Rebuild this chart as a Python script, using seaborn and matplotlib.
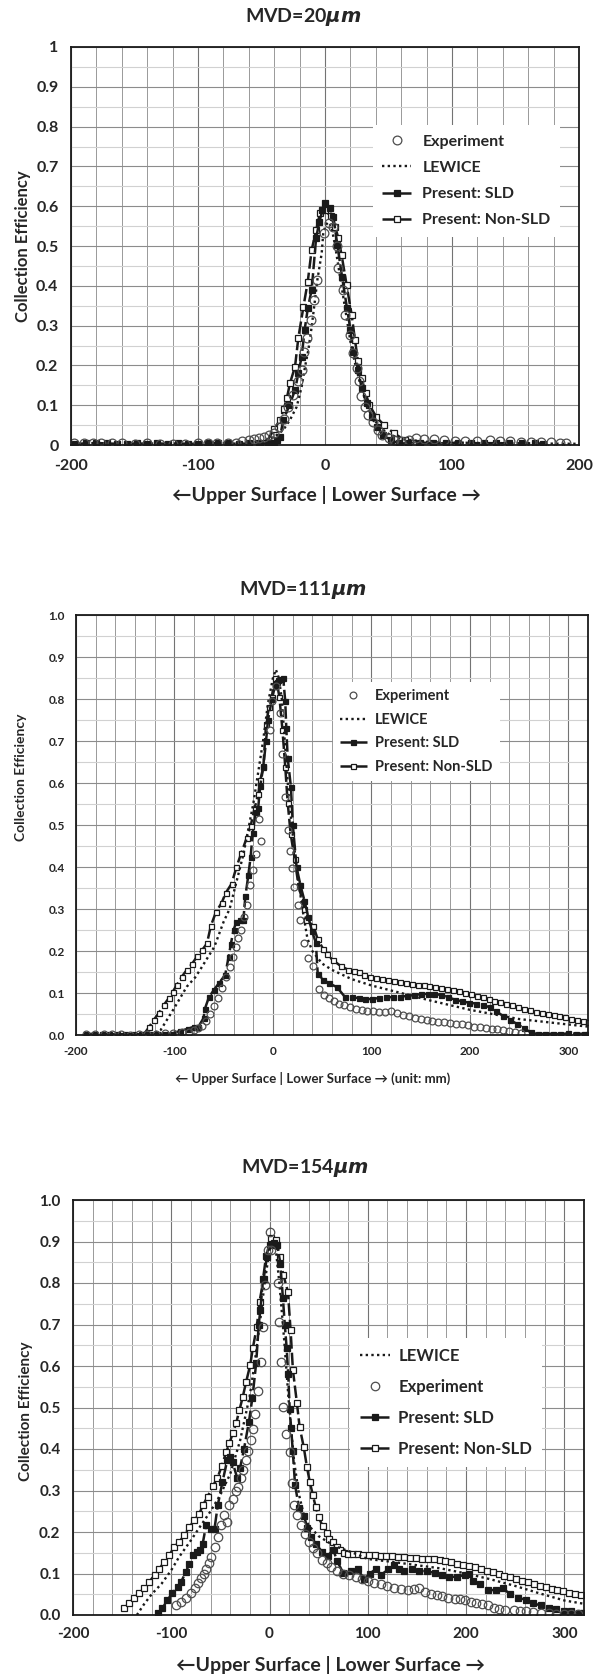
import matplotlib
matplotlib.use("Agg")
import matplotlib.pyplot as plt
from matplotlib.ticker import MultipleLocator, FuncFormatter
import seaborn as sns

# ---------------- MVD = 20 um ----------------
exp20_x = [-198, -190, -183, -176, -168, -160, -150, -140, -130, -120,
           -110, -100, -92, -85, -76, -70, -65, -60, -56, -52,
           -48, -44, -40, -36, -32, -29, -25, -21, -18.5, -16.5,
           -13.8, -11, -8.6, -6, -0.6, 3, 6.6, 9.2, 10.5, 13.9,
           15.7, 19.7, 21.8, 24.9, 26.5, 28, 31.5, 34, 37.5, 42,
           45, 50, 54, 60, 66, 72, 78, 86, 94, 102,
           110, 120, 130, 138, 146, 154, 162, 170, 178, 185, 190]
exp20_y = [0.004, 0.004, 0.005, 0.004, 0.004, 0.004, 0.003, 0.004, 0.003, 0.003,
           0.002, 0.004, 0.005, 0.006, 0.005, 0.006, 0.01, 0.012, 0.015, 0.018,
           0.02, 0.025, 0.03, 0.045, 0.065, 0.096, 0.125, 0.16, 0.188, 0.234,
           0.268, 0.314, 0.364, 0.415, 0.533, 0.558, 0.548, 0.5, 0.444, 0.39,
           0.327, 0.276, 0.231, 0.193, 0.16, 0.124, 0.096, 0.075, 0.059, 0.038,
           0.025, 0.018, 0.013, 0.01, 0.012, 0.018, 0.016, 0.014, 0.012, 0.01,
           0.01, 0.009, 0.012, 0.01, 0.009, 0.008, 0.007, 0.007, 0.007, 0.006, 0.005]

lew20_x = [-60, -50, -40, -32.8, -27.6, -22.3, -18.4, -15.7, -13.1, -10.5,
           -7.9, -6, -2.6, -1.3, 2, 5, 8, 11, 14, 17,
           20, 24, 28, 32, 36, 40, 45, 50, 60, 80,
           100, 150, 200]
lew20_y = [0.004, 0.01, 0.02, 0.038, 0.063, 0.096, 0.146, 0.197, 0.239, 0.297,
           0.364, 0.415, 0.482, 0.536, 0.56, 0.55, 0.5, 0.44, 0.38, 0.32,
           0.26, 0.2, 0.15, 0.11, 0.08, 0.058, 0.04, 0.028, 0.015, 0.008,
           0.006, 0.004, 0.003]

sld20_x = [-197, -188, -180, -172, -164, -156, -148, -140, -132, -124,
           -116, -108, -100, -92, -84, -76, -68, -60, -52, -45,
           -40, -37.5, -35.4, -32.8, -28, -23.6, -21, -18.4, -16, -13.5,
           -10.5, -7, -4.5, -2, 0, 3.9, 6.6, 9.7, 13.4, 17.3,
           20, 22.3, 26.2, 28.8, 32.8, 36.7, 40.7, 46, 52, 58,
           65, 75, 85, 95, 105, 115, 125, 135, 145, 155,
           165, 172]
sld20_y = [0.003, 0.004, 0.005, 0.004, 0.003, 0.003, 0.004, 0.003, 0.004, 0.003,
           0.004, 0.003, 0.003, 0.004, 0.005, 0.004, 0.003, 0.004, 0.004, 0.004,
           0.006, 0.012, 0.021, 0.063, 0.1, 0.138, 0.18, 0.222, 0.29, 0.344,
           0.39, 0.52, 0.56, 0.59, 0.607, 0.595, 0.574, 0.503, 0.423, 0.344,
           0.29, 0.234, 0.188, 0.143, 0.105, 0.071, 0.046, 0.025, 0.012, 0.004,
           0.004, 0.006, 0.005, 0.004, 0.006, 0.005, 0.004, 0.005, 0.004, 0.004,
           0.004, 0.003]

non20_x = [-46.5, -40, -35.4, -32.5, -30, -27.6, -23.6, -21, -17, -13.6,
           -10.5, -7, -3.9, 0, 4.5, 8, 10.5, 13.1, 17, 21,
           23.6, 26, 28.8, 32, 35, 40.5, 46.5, 54, 63, 69]
non20_y = [0.005, 0.04, 0.063, 0.09, 0.118, 0.155, 0.197, 0.269, 0.347, 0.41,
           0.49, 0.54, 0.583, 0.59, 0.575, 0.548, 0.52, 0.477, 0.402, 0.327,
           0.264, 0.21, 0.168, 0.13, 0.1, 0.07, 0.05, 0.03, 0.012, 0.004]

# ---------------- MVD = 111 um ----------------
exp111_x = [-190, -181, -172, -163, -154, -145, -136, -128, -119, -110,
            -101, -92, -85, -80, -76, -72, -68, -64, -60, -56,
            -52, -48, -44, -41, -38, -35, -32, -29, -26, -23,
            -20, -17, -14, -12, -3, -1, 3, 7, 9, 12.5,
            15, 17, 19, 21, 25, 28, 32, 36, 41, 47,
            52, 57, 62, 67, 72, 78, 84, 90, 96, 102,
            108, 114, 120, 126, 132, 138, 144, 150, 156, 162,
            168, 174, 180, 186, 192, 198, 204, 210, 216, 222,
            228, 234, 240, 246, 252]
exp111_y = [0.002, 0.003, 0.002, 0.002, 0.002, 0.001, 0.002, 0.002, 0.003, 0.004,
            0.004, 0.006, 0.008, 0.012, 0.016, 0.022, 0.034, 0.05, 0.068, 0.088,
            0.112, 0.138, 0.162, 0.185, 0.21, 0.232, 0.25, 0.28, 0.31, 0.356,
            0.393, 0.43, 0.515, 0.463, 0.726, 0.795, 0.83, 0.767, 0.67, 0.566,
            0.489, 0.438, 0.397, 0.352, 0.31, 0.274, 0.22, 0.183, 0.164, 0.11,
            0.095, 0.087, 0.08, 0.075, 0.072, 0.066, 0.062, 0.06, 0.058, 0.056,
            0.055, 0.054, 0.058, 0.052, 0.047, 0.045, 0.04, 0.037, 0.036, 0.034,
            0.032, 0.031, 0.029, 0.027, 0.026, 0.024, 0.02, 0.018, 0.017, 0.015,
            0.014, 0.012, 0.009, 0.006, 0.004]

lew111_x = [-125, -114, -100, -87.5, -79, -74, -59.5, -50, -44, -30,
            -20, -10, -5, 0, 3, 6, 9, 12, 16, 20,
            25, 30, 35, 40, 50, 60, 80, 100, 130, 160,
            200, 250, 300, 320]
lew111_y = [0.0, 0.012, 0.065, 0.115, 0.137, 0.155, 0.21, 0.27, 0.3, 0.43,
            0.55, 0.7, 0.79, 0.85, 0.87, 0.85, 0.8, 0.7, 0.57, 0.48,
            0.38, 0.3, 0.23, 0.2, 0.17, 0.155, 0.133, 0.118, 0.1, 0.082,
            0.06, 0.038, 0.025, 0.02]

sld111_x = [-190, -182, -174, -166, -158, -150, -142, -134, -126, -118,
            -110, -103, -94, -86, -80, -75.6, -70.5, -69, -65, -60,
            -55, -48.5, -45, -42.7, -40, -37, -33, -30, -28, -25,
            -22.6, -20.6, -17.5, -15, -12.8, -9.7, -7, -5, -1, 2,
            4.7, 8, 10.5, 12.5, 13.6, 15, 18.3, 20.2, 24, 28,
            32, 36, 39.7, 43.6, 45.5, 51, 57, 65, 73, 80,
            87, 94, 101, 108, 115, 122, 129, 136, 143, 150,
            157, 164, 171, 178, 185, 192, 199, 206, 213, 220,
            227, 234, 241, 248, 255, 262, 269, 276, 284, 292,
            300, 308, 316, 320]
sld111_y = [0.002, 0.003, 0.003, 0.002, 0.002, 0.002, 0.002, 0.002, 0.003, 0.003,
            0.003, 0.003, 0.01, 0.015, 0.02, 0.02, 0.04, 0.063, 0.09, 0.107,
            0.123, 0.143, 0.186, 0.217, 0.25, 0.27, 0.275, 0.275, 0.33, 0.38,
            0.425, 0.48, 0.53, 0.54, 0.594, 0.64, 0.7, 0.75, 0.8, 0.83,
            0.845, 0.848, 0.849, 0.795, 0.73, 0.66, 0.59, 0.5, 0.4, 0.356,
            0.32, 0.28, 0.247, 0.22, 0.146, 0.132, 0.123, 0.114, 0.091, 0.09,
            0.088, 0.085, 0.086, 0.088, 0.09, 0.09, 0.091, 0.093, 0.095, 0.097,
            0.098, 0.098, 0.095, 0.09, 0.084, 0.08, 0.077, 0.075, 0.072, 0.066,
            0.056, 0.045, 0.036, 0.026, 0.016, 0.006, 0.002, 0.003, 0.003, 0.002,
            0.004, 0.003, 0.003, 0.002]

non111_x = [-131, -126, -121, -116, -111, -106, -101.7, -97.6, -92.5, -87.5,
            -82, -77, -72, -67, -63, -58, -52, -48, -42, -37,
            -32, -26.5, -22.6, -18.7, -14.8, -12.8, -9.7, -7, -4, -1.2,
            1.9, 4, 6.6, 9.7, 12.5, 15, 18, 22, 26, 32,
            34, 41, 45.5, 51, 55, 61, 69, 76.7, 82, 87,
            93, 99, 105, 111, 117, 123, 129, 135, 141, 147,
            153, 159, 165, 171, 177, 183, 189, 195, 201, 207,
            213, 219, 225, 231, 237, 243, 249, 255, 261, 267,
            273, 279, 285, 291, 297, 303, 309, 315, 320]
non111_y = [0.002, 0.018, 0.036, 0.052, 0.071, 0.087, 0.103, 0.119, 0.139, 0.155,
            0.17, 0.187, 0.202, 0.218, 0.26, 0.292, 0.315, 0.338, 0.36, 0.4,
            0.434, 0.47, 0.498, 0.539, 0.575, 0.607, 0.639, 0.74, 0.78, 0.804,
            0.849, 0.84, 0.804, 0.726, 0.639, 0.553, 0.479, 0.42, 0.356, 0.301,
            0.274, 0.26, 0.228, 0.205, 0.192, 0.178, 0.164, 0.155, 0.152, 0.15,
            0.142, 0.139, 0.136, 0.133, 0.131, 0.129, 0.127, 0.125, 0.122, 0.12,
            0.118, 0.117, 0.115, 0.113, 0.11, 0.107, 0.105, 0.101, 0.098, 0.094,
            0.09, 0.086, 0.082, 0.079, 0.075, 0.071, 0.066, 0.063, 0.059, 0.055,
            0.053, 0.05, 0.047, 0.045, 0.042, 0.039, 0.036, 0.034, 0.032]

# ---------------- MVD = 154 um ----------------
exp154_x = [-95, -90, -85, -80, -76, -73, -70, -67, -64.6, -62,
            -59.5, -56, -52.7, -49.3, -46, -43, -41, -37, -34, -32,
            -29, -27, -24, -21.5, -18.7, -17, -15.3, -11.9, -8.5, -6.8,
            -5, -1.7, 0, 1.7, 8.5, 10, 11.9, 13.6, 17, 20.4,
            22.5, 25, 28, 32, 36, 40, 44, 48, 53, 58,
            63, 69, 75, 81, 88, 94, 100, 106, 113, 120,
            127, 134, 141, 147, 152, 158, 164, 170, 176, 182,
            189, 194, 199, 205, 210, 216, 222, 228, 233, 240,
            249, 255, 261, 268, 276, 284, 292, 300, 307, 314]
exp154_y = [0.023, 0.032, 0.04, 0.052, 0.065, 0.076, 0.088, 0.1, 0.112, 0.125,
            0.14, 0.164, 0.188, 0.216, 0.24, 0.225, 0.264, 0.28, 0.3, 0.308,
            0.33, 0.35, 0.373, 0.396, 0.421, 0.449, 0.485, 0.539, 0.61, 0.694,
            0.796, 0.88, 0.924, 0.88, 0.8, 0.705, 0.61, 0.501, 0.437, 0.392,
            0.317, 0.265, 0.24, 0.216, 0.195, 0.175, 0.161, 0.15, 0.133, 0.125,
            0.115, 0.107, 0.1, 0.096, 0.092, 0.087, 0.083, 0.078, 0.074, 0.07,
            0.065, 0.062, 0.06, 0.062, 0.064, 0.055, 0.05, 0.048, 0.046, 0.042,
            0.039, 0.038, 0.037, 0.032, 0.028, 0.026, 0.023, 0.018, 0.014, 0.013,
            0.011, 0.01, 0.009, 0.008, 0.006, 0.004, 0.002, 0.002, 0.002, 0.002]

lew154_x = [-135, -128, -120, -110, -100, -92, -80, -71, -60, -50,
            -40, -30, -20, -15, -10, -5, 0, 3, 6, 10,
            15, 20, 25, 30, 35, 40, 50, 60, 70, 85,
            100, 125, 150, 175, 200, 225, 250, 275, 300, 320]
lew154_y = [0.0, 0.025, 0.05, 0.075, 0.108, 0.14, 0.18, 0.212, 0.25, 0.29,
            0.34, 0.42, 0.53, 0.61, 0.7, 0.8, 0.88, 0.9, 0.89, 0.8,
            0.66, 0.5, 0.37, 0.29, 0.24, 0.215, 0.19, 0.175, 0.163, 0.15,
            0.135, 0.128, 0.12, 0.112, 0.1, 0.086, 0.07, 0.052, 0.035, 0.027]

sld154_x = [-114, -109, -104, -99, -93.5, -90, -85, -81.6, -78, -74,
            -71, -68, -64.6, -60, -56, -52.7, -48, -43, -40, -37.6,
            -33, -30, -26, -21, -17.4, -13.6, -11, -9.3, -6.6, -3.5,
            0, 4.3, 8, 11, 13.6, 15.5, 17.4, 19, 20.5, 22,
            23.6, 26, 30, 35, 38.5, 42, 47.7, 53.5, 59, 65,
            69, 75, 82.5, 90, 96, 102, 108, 113.6, 121, 127,
            132, 137, 144.6, 152, 160, 168, 175.6, 183, 191, 199,
            203, 206.6, 214, 222, 230, 237.6, 245, 253, 261, 268.6,
            276, 284, 292, 299.6, 307, 315, 320]
sld154_y = [0.004, 0.016, 0.036, 0.052, 0.068, 0.08, 0.104, 0.124, 0.144, 0.152,
            0.156, 0.172, 0.216, 0.207, 0.208, 0.264, 0.32, 0.373, 0.38, 0.368,
            0.331, 0.354, 0.4, 0.465, 0.524, 0.607, 0.7, 0.736, 0.81, 0.865,
            0.892, 0.897, 0.892, 0.846, 0.764, 0.7, 0.644, 0.58, 0.497, 0.45,
            0.396, 0.313, 0.258, 0.239, 0.21, 0.189, 0.17, 0.152, 0.143, 0.156,
            0.129, 0.101, 0.106, 0.11, 0.087, 0.1, 0.11, 0.097, 0.11, 0.12,
            0.112, 0.106, 0.11, 0.106, 0.106, 0.101, 0.097, 0.092, 0.092, 0.097,
            0.1, 0.083, 0.074, 0.06, 0.06, 0.064, 0.05, 0.041, 0.037, 0.028,
            0.023, 0.018, 0.014, 0.009, 0.009, 0.005, 0.004]

non154_x = [-148, -143, -138, -133, -127.5, -122.4, -117, -112, -107, -102,
            -97, -92, -86.7, -81.6, -76.5, -71.4, -68, -63, -58, -53,
            -48.5, -44.2, -40.8, -37.4, -34, -30.6, -27.2, -23.8, -19.7, -17,
            -12.9, -10.2, -6, -2.7, 1, 6.8, 10.2, 14, 18.7, 21.4,
            23.8, 27.9, 30.6, 34.7, 38.1, 41, 44, 47, 50, 54,
            58, 61, 65, 69, 72, 76, 80, 85, 90, 95,
            101, 107, 113, 119, 125, 131, 137, 143, 149, 155,
            161, 167, 173, 179, 185, 191, 197, 203, 209, 215,
            221, 227, 233, 239, 245, 251, 257, 263, 269, 275,
            281, 287, 293, 299, 305, 311, 317]
non154_y = [0.016, 0.028, 0.04, 0.052, 0.064, 0.08, 0.096, 0.112, 0.128, 0.144,
            0.164, 0.176, 0.192, 0.212, 0.228, 0.244, 0.264, 0.285, 0.31, 0.33,
            0.36, 0.392, 0.414, 0.438, 0.462, 0.494, 0.526, 0.562, 0.602, 0.643,
            0.695, 0.755, 0.81, 0.862, 0.908, 0.904, 0.863, 0.82, 0.779, 0.687,
            0.59, 0.51, 0.453, 0.406, 0.356, 0.32, 0.29, 0.26, 0.235, 0.215,
            0.198, 0.184, 0.175, 0.165, 0.156, 0.15, 0.147, 0.146, 0.146, 0.145,
            0.145, 0.144, 0.143, 0.142, 0.141, 0.14, 0.139, 0.138, 0.137, 0.136,
            0.135, 0.134, 0.132, 0.13, 0.127, 0.124, 0.121, 0.118, 0.115, 0.111,
            0.107, 0.103, 0.099, 0.095, 0.091, 0.087, 0.083, 0.079, 0.075, 0.071,
            0.067, 0.063, 0.06, 0.057, 0.054, 0.051, 0.049]

sns.set_theme(style="white")
plt.rcParams["font.family"] = ["Lato", "DejaVu Sans"]
plt.rcParams["font.weight"] = "bold"
plt.rcParams["axes.unicode_minus"] = False
plt.rcParams["mathtext.fontset"] = "dejavusans"

W, H = 599, 1678
fig = plt.figure(figsize=(W / 100, H / 100), dpi=100)


def px_axes(left, top, right, bottom):
    return fig.add_axes([left / W, 1 - bottom / H, (right - left) / W, (bottom - top) / H])


def draw(ax, data, ms, order, xmax):
    (ex, ey), (lx, ly), (sx, sy), (nx, ny) = data
    common = dict(ax=ax, estimator=None, sort=False, legend=False)
    sns.lineplot(x=nx, y=ny, color="k", lw=1.8, linestyle=(0, (5, 1.6)), marker="s",
                 markersize=ms, markerfacecolor="white", markeredgecolor="k",
                 markeredgewidth=0.9, label="Present: Non-SLD", **common)
    sns.lineplot(x=sx, y=sy, color="k", lw=1.8, linestyle=(0, (5, 1.6)), marker="s",
                 markersize=ms, markerfacecolor="k", markeredgecolor="k",
                 markeredgewidth=0.9, label="Present: SLD", **common)
    sns.lineplot(x=lx, y=ly, color="k", lw=1.7, linestyle=(0, (1, 1.4)),
                 label="LEWICE", **common)
    sns.lineplot(x=ex, y=ey, color="0.35", linestyle="none", marker="o",
                 markersize=ms + 1.3, markerfacecolor="none", markeredgecolor="0.3",
                 markeredgewidth=0.9, label="Experiment", **common)

    ax.set_xlim(-200, xmax)
    ax.set_ylim(0, 1)
    ax.xaxis.set_major_locator(MultipleLocator(100))
    ax.xaxis.set_minor_locator(MultipleLocator(20))
    ax.yaxis.set_major_locator(MultipleLocator(0.1))
    ax.yaxis.set_minor_locator(MultipleLocator(0.05))
    ax.set_axisbelow(True)
    ax.grid(which="major", axis="x", color="0.45", lw=0.8)
    ax.grid(which="minor", axis="x", color="0.6", lw=0.7)
    ax.grid(which="major", axis="y", color="0.55", lw=0.8)
    ax.grid(which="minor", axis="y", color="0.82", lw=0.8)
    for s in ax.spines.values():
        s.set_color("k")
        s.set_linewidth(1.3)
        s.set_visible(True)
    ax.set_xlabel("")
    ax.set_ylabel("")
    ax.tick_params(which="minor", length=0)
    h, l = ax.get_legend_handles_labels()
    lut = dict(zip(l, h))
    return [lut[k] for k in order], order


ax1 = px_axes(71, 47, 579, 445)
ax2 = px_axes(76, 615, 588, 1035)
ax3 = px_axes(73, 1200, 584, 1615)

o1 = ["Experiment", "LEWICE", "Present: SLD", "Present: Non-SLD"]
o3 = ["LEWICE", "Experiment", "Present: SLD", "Present: Non-SLD"]

h1, l1 = draw(ax1, [(exp20_x, exp20_y), (lew20_x, lew20_y), (sld20_x, sld20_y), (non20_x, non20_y)], 5.0, o1, 200)
h2, l2 = draw(ax2, [(exp111_x, exp111_y), (lew111_x, lew111_y), (sld111_x, sld111_y), (non111_x, non111_y)], 3.6, o1, 320)
h3, l3 = draw(ax3, [(exp154_x, exp154_y), (lew154_x, lew154_y), (sld154_x, sld154_y), (non154_x, non154_y)], 4.8, o3, 320)

ax1.yaxis.set_major_formatter(FuncFormatter(lambda v, p: f"{v:g}"))
ax2.yaxis.set_major_formatter(FuncFormatter(lambda v, p: f"{v:.1f}"))
ax3.yaxis.set_major_formatter(FuncFormatter(lambda v, p: f"{v:.1f}"))

ax1.tick_params(axis="y", which="major", direction="in", length=4, labelsize=11.5, pad=9)
ax1.tick_params(axis="x", which="major", direction="out", length=4, labelsize=11.5, pad=6)
ax2.tick_params(axis="both", which="major", direction="in", length=3, labelsize=8.5, pad=8)
ax3.tick_params(axis="both", which="major", direction="in", length=4, labelsize=11, pad=9)

legkw = dict(loc="upper left", borderaxespad=0, frameon=True, fancybox=False,
             framealpha=1, facecolor="white", edgecolor="none", numpoints=1)
ax1.legend(h1, l1, bbox_to_anchor=(0.594, 0.804), fontsize=11.5, handlelength=1.8,
           handletextpad=0.7, labelspacing=0.75, borderpad=0.6, **legkw)
ax2.legend(h2, l2, bbox_to_anchor=(0.502, 0.84), fontsize=10.5, handlelength=1.8,
           handletextpad=0.6, labelspacing=0.65, borderpad=0.5, **legkw)
ax3.legend(h3, l3, bbox_to_anchor=(0.542, 0.667), fontsize=12, handlelength=1.8,
           handletextpad=0.5, labelspacing=0.9, borderpad=0.6, **legkw)

# titles, axis labels
fig.text(303 / W, 1 - 17 / H, r"MVD=20$\mu m$", ha="center", va="center", fontsize=14, fontweight="bold")
fig.text(303 / W, 1 - 590 / H, r"MVD=111$\mu m$", ha="center", va="center", fontsize=14, fontweight="bold")
fig.text(305 / W, 1 - 1168 / H, r"MVD=154$\mu m$", ha="center", va="center", fontsize=14, fontweight="bold")

fig.text(326 / W, 1 - 495 / H, "←Upper Surface | Lower Surface →", ha="center", va="center", fontsize=14, fontweight="bold")
fig.text(313 / W, 1 - 1078 / H, "← Upper Surface | Lower Surface → (unit: mm)", ha="center", va="center", fontsize=9.5, fontweight="bold")
fig.text(331 / W, 1 - 1665 / H, "←Upper Surface | Lower Surface →", ha="center", va="center", fontsize=14, fontweight="bold")

fig.text(23 / W, 1 - 246 / H, "Collection Efficiency", rotation=90, ha="center", va="center", fontsize=12, fontweight="bold")
fig.text(21 / W, 1 - 777 / H, "Collection Efficiency", rotation=90, ha="center", va="center", fontsize=10, fontweight="bold")
fig.text(26 / W, 1 - 1411 / H, "Collection Efficiency", rotation=90, ha="center", va="center", fontsize=11, fontweight="bold")

fig.savefig("out.png", dpi=100, facecolor="white")
